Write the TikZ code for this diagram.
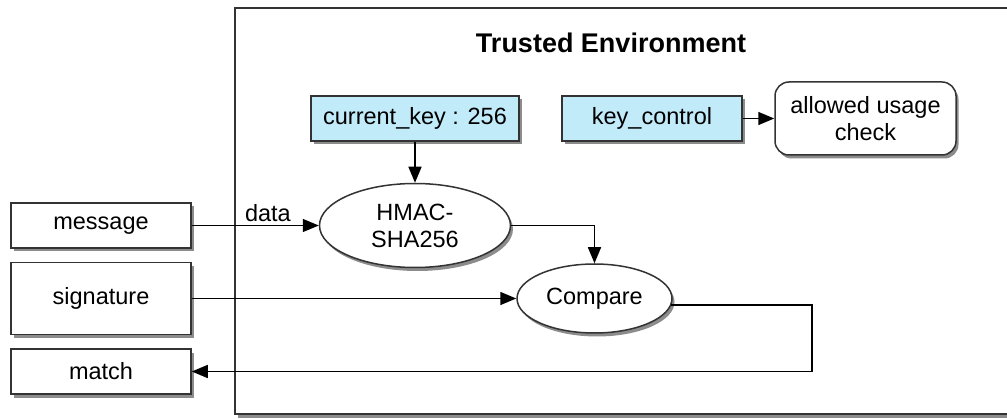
\documentclass[tikz,border=0pt]{standalone}
\usepackage{fontspec}
\setmainfont{Liberation Sans}
\usetikzlibrary{arrows.meta,shapes.geometric,shadows,positioning}
\definecolor{keyblue}{HTML}{C2EBFA}

\begin{document}
\begin{tikzpicture}[x=1pt,y=1pt,node distance=73pt,line width=1.5pt,>={Triangle[length=16pt,width=13pt]}]
\useasboundingbox (0,0) rectangle (1007,418);

\tikzstyle{sh} = [drop shadow={shadow xshift=2.5pt,shadow yshift=-3.5pt,fill=black,opacity=0.45}]
\tikzstyle{txt} = [font=\fontsize{23.5}{27}\selectfont]
\tikzstyle{sq} = [rectangle, minimum width=180pt, minimum height=45pt, text centered, draw=black!80, fill=white, txt, sh]
\tikzstyle{kb} = [sq, fill=keyblue]
\tikzstyle{rr} = [sq, rounded corners=14pt, align=center, minimum height=73pt]
\tikzstyle{ci} = [ellipse, inner sep=0pt, align=center, draw=black!80, fill=white, txt, sh]
\node (env) [rectangle, minimum width=795pt, minimum height=406pt, draw=black!80, fill=white, sh] at (632.5,207) {};
\node (title) [anchor=base, font=\fontsize{27}{30}\selectfont\bfseries] at (611,365) {Trusted Environment};
\node (curkey) [kb, minimum width=208pt] at (415,299.5) {current\_key : 256};
\node (keyctl) [kb, right of=curkey, node distance=237pt] {key\_control};
\node (usage) [rr, right of=keyctl, node distance=213.5pt, minimum width=181pt] {allowed usage\\check};
\node (hmac) [ci, below of=curkey, node distance=107pt, minimum width=191pt, minimum height=84pt] {HMAC-\\SHA256};
\node (msg) [sq] at (101,192.5) {message};
\node (sig) [sq, below of=msg, minimum height=72pt] {signature};
\node (match) [sq, below of=sig] {match};
\node (cmp) [ci, minimum width=155pt, minimum height=69pt] at (594.5,119.5) {Compare};
\coordinate (ret) at (812,46.5);
\draw[->] (msg) -- node (data) [above, pos=0.6, txt] {data} (hmac);
\draw[->] (curkey) -- (hmac);
\draw[->] (keyctl) -- (usage);
\draw[->] (hmac.east) -| (cmp.north);
\draw[->] (sig) -- (cmp);
\draw[->] (cmp.-5) -| (ret) -- (match);
\end{tikzpicture}
\end{document}
